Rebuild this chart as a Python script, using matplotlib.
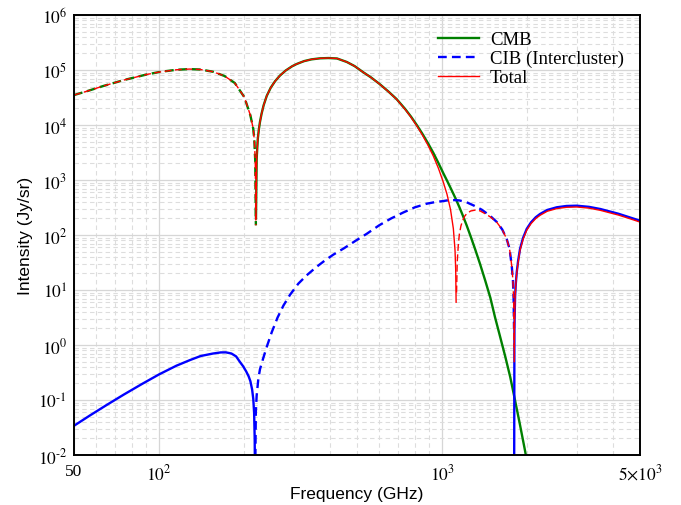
import numpy as np
import matplotlib
matplotlib.use("Agg")
import matplotlib.pyplot as plt
from matplotlib.ticker import FixedLocator, FixedFormatter, LogLocator, NullFormatter

plt.rcParams['font.family'] = 'serif'
plt.rcParams['font.serif'] = ['Liberation Serif', 'DejaVu Serif']
plt.rcParams['mathtext.fontset'] = 'stix'
plt.rcParams['axes.linewidth'] = 1.4

# intensities in Jy/sr with their sign; negative parts get drawn dashed
freq_cmb = [50, 56, 63, 75, 90,
            100, 115, 128, 140, 155,
            170, 185, 200, 210, 215,
            217, 218.5, 219.6, 219.8, 221,
            223, 225, 227, 230, 234,
            240, 248, 257, 267, 280,
            295, 306, 325, 345, 370,
            396, 425, 460, 490, 526,
            560, 600, 645, 690, 740,
            775, 813, 850, 890, 930,
            970, 1009, 1040, 1070, 1095,
            1120, 1150, 1180, 1220, 1260,
            1306, 1360, 1420, 1480, 1537,
            1600, 1670, 1740, 1808, 1880,
            1962, 2050, 2150]
cmb = [-3.5e4, -4.17e4, -5.06e4, -6.56e4, -8.26e4,
       -9.18e4, -1.01e5, -1.04e5, -1.02e5, -9.3e4,
       -7.8e4, -5.8e4, -3.2e4, -1.5e4, -8.5e3,
       -5.0e3, -2.2e3, -150, 200, 2.4e3,
       5.5e3, 8.3e3, 1.13e4, 1.6e4, 2.3e4,
       3.4e4, 4.8e4, 6.3e4, 7.9e4, 9.8e4,
       1.17e5, 1.285e5, 1.45e5, 1.56e5, 1.63e5,
       1.65e5, 1.62e5, 1.40e5, 1.18e5, 9.1e4,
       7.35e4, 5.6e4, 4.08e4, 2.96e4, 1.95e4,
       1.43e4, 1.0e4, 7.0e3, 4.7e3, 3.13e3,
       2.03e3, 1.33e3, 975, 721, 562,
       438, 321, 233, 150, 95,
       56, 30, 14.7, 7.2, 3.2,
       1.45, 0.62, 0.26, 0.1, 0.037,
       0.012, 0.0034, 0.00085]

freq_cib = [50, 57, 65, 75, 87,
            100, 115, 128, 140, 155,
            165, 172, 180, 187, 193,
            198, 203, 207, 210, 213,
            215, 216.5, 217.5, 218, 218.5,
            219.5, 221, 224, 227, 233,
            240, 250, 262, 275, 290,
            310, 332, 360, 385, 412,
            450, 495, 541, 600, 660,
            729, 800, 880, 950, 1009,
            1040, 1075, 1110, 1150, 1221,
            1300, 1380, 1475, 1560, 1630,
            1690, 1730, 1761, 1778, 1788,
            1794, 1796, 1800, 1810, 1820,
            1834, 1855, 1884, 1930, 1989,
            2060, 2140, 2217, 2350, 2539,
            2750, 2988, 3300, 3620, 4200,
            4600, 5000]
cib = [0.034, 0.0526, 0.0803, 0.1256, 0.196,
       0.293, 0.42, 0.528, 0.63, 0.70,
       0.733, 0.735, 0.70, 0.62, 0.49,
       0.41, 0.33, 0.27, 0.22, 0.155,
       0.105, 0.058, 0.02, 0.004, -0.005,
       -0.06, -0.12, -0.24, -0.36, -0.57,
       -0.93, -1.72, -3.16, -5.25, -8.2,
       -13, -18.5, -26.4, -34.4, -43.8,
       -57.5, -78.9, -105, -151, -200,
       -257, -318, -370, -399, -414,
       -425, -430, -431, -425, -393,
       -339, -288, -224, -172, -126,
       -85, -56, -27.5, -15, -7.1,
       -2.0, 0.005, 2.2, 7.7, 13,
       21, 34, 56, 88, 129,
       170, 210, 241, 285, 319,
       337, 341, 325, 297, 243,
       209, 182]

freq_total = [50, 56, 63, 75, 90,
              100, 115, 128, 140, 155,
              170, 185, 200, 210, 215,
              217, 218.5, 219.6, 219.8, 221,
              223, 225, 227, 230, 234,
              240, 248, 257, 267, 280,
              295, 306, 325, 345, 370,
              396, 425, 460, 490, 526,
              560, 600, 645, 690, 740,
              775, 813, 850, 890, 930,
              970, 1009, 1040, 1070, 1095,
              1110, 1116, 1120, 1124, 1130,
              1140, 1150, 1165, 1180, 1200,
              1220, 1260, 1306, 1360, 1420,
              1480, 1560, 1630, 1690, 1730,
              1761, 1778, 1788, 1795, 1797,
              1800, 1810, 1820, 1834, 1855,
              1884, 1930, 1989, 2060, 2140,
              2217, 2350, 2539, 2750, 2988,
              3300, 3620, 4200, 4600, 5000]
total = [-3.5e4, -4.17e4, -5.06e4, -6.56e4, -8.26e4,
         -9.18e4, -1.01e5, -1.04e5, -1.02e5, -9.3e4,
         -7.8e4, -5.8e4, -3.2e4, -1.5e4, -8.5e3,
         -5.0e3, -2.2e3, -150, 200, 2.4e3,
         5.5e3, 8.3e3, 1.13e4, 1.6e4, 2.3e4,
         3.4e4, 4.8e4, 6.3e4, 7.9e4, 9.8e4,
         1.17e5, 1.285e5, 1.45e5, 1.56e5, 1.63e5,
         1.65e5, 1.62e5, 1.40e5, 1.18e5, 9.09e4,
         7.34e4, 5.58e4, 4.06e4, 2.94e4, 1.92e4,
         1.40e4, 9.68e3, 6.66e3, 4.33e3, 2.74e3,
         1.63e3, 916, 550, 291, 131,
         53, 24, 6, -9, -32,
         -66, -104, -147, -180, -219,
         -243, -273, -283, -275, -243,
         -213, -170, -125, -85, -56,
         -27.5, -15, -7, -0.9, 0.5,
         2.2, 7.4, 12.4, 20, 32,
         53, 83, 122, 161, 199,
         228, 270, 302, 319, 323,
         308, 281, 230, 198, 172]

y_exponents = [-2, -1, 0, 1, 2, 3, 4, 5, 6]


def split_sign(v):
    v = np.array(v, dtype=float)
    pos = np.where(v > 0, v, np.nan)
    neg = np.where(v < 0, -v, np.nan)
    return pos, neg


fig = plt.figure(figsize=(6.81, 5.06), dpi=100)
ax = fig.add_axes([74/681, 1-456/506, 566/681, 440/506])

cmb_p, cmb_n = split_sign(cmb)
cib_p, cib_n = split_sign(cib)
tot_p, tot_n = split_sign(total)

l_cmb, = ax.plot(freq_cmb, cmb_p, '-', color='#008000', lw=1.7, label='CMB')
ax.plot(freq_cmb, cmb_n, color='#008000', lw=1.7, dashes=(3.7, 2.0))
ax.plot(freq_cib, cib_p, '-', color='#0000ff', lw=1.7)
l_cib, = ax.plot(freq_cib, cib_n, color='#0000ff', lw=1.7, dashes=(3.7, 2.2),
                 label='CIB (Intercluster)')
l_tot, = ax.plot(freq_total, tot_p, '-', color='#ff0000', lw=1.0, label='Total')
ax.plot(freq_total, tot_n, color='#ff0000', lw=1.0, dashes=(5, 2.5))

ax.set_xscale('log')
ax.set_yscale('log')
ax.set_xlim(50, 5000)
ax.set_ylim(1e-2, 1e6)

ax.xaxis.set_major_locator(FixedLocator([50, 100, 1000, 5000]))
ax.xaxis.set_major_formatter(FixedFormatter(['50', r'$10^2$', r'$10^3$', r'$5{\times}10^3$']))
ax.xaxis.set_minor_locator(LogLocator(base=10, subs=np.arange(2, 10)))
ax.xaxis.set_minor_formatter(NullFormatter())

# exponent labels with a short hyphen instead of the wide minus
ylabels = []
for e in y_exponents:
    if e < 0:
        ylabels.append(r'$10^{\text{-}%d}$' % (-e))
    else:
        ylabels.append(r'$10^{%d}$' % e)
ax.yaxis.set_major_locator(FixedLocator([10.0**e for e in y_exponents]))
ax.yaxis.set_major_formatter(FixedFormatter(ylabels))
ax.yaxis.set_minor_locator(LogLocator(base=10, subs=np.arange(2, 10), numticks=20))
ax.yaxis.set_minor_formatter(NullFormatter())

ax.grid(which='major', color='#d6d6d6', linestyle='-', lw=0.9)
ax.grid(which='minor', color='#dddddd', linestyle=(0, (4, 3)), lw=0.8)
ax.set_axisbelow(True)
ax.tick_params(which='both', length=0, labelsize=12.5)
ax.tick_params(axis='x', pad=6)
ax.tick_params(axis='y', pad=5)

ax.set_xlabel('Frequency (GHz)', family='Liberation Sans', fontsize=12.5, labelpad=2)
ax.set_ylabel('Intensity (Jy/sr)', family='Liberation Sans', fontsize=12.5, labelpad=3)

ax.legend(handles=[l_cmb, l_cib, l_tot], loc='upper right', frameon=False,
          fontsize=13.5, handlelength=2.2, handletextpad=0.6,
          labelspacing=0.1, borderaxespad=0.45)

fig.savefig('out.png', dpi=100)
